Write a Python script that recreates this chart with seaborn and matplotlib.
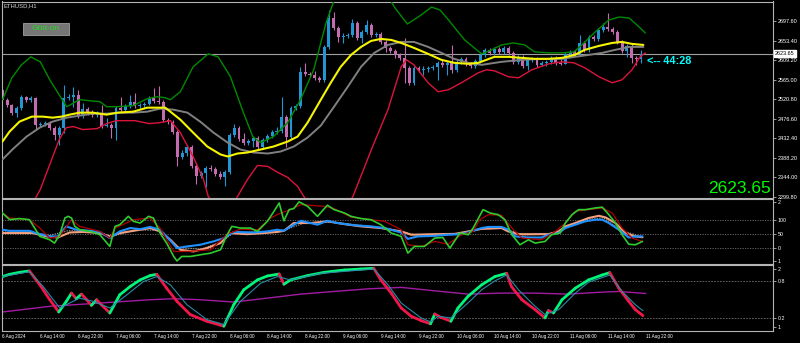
import matplotlib
matplotlib.use("Agg")
import matplotlib.pyplot as plt
from matplotlib.collections import LineCollection
from matplotlib.patches import Rectangle
import numpy as np
import pandas as pd
import seaborn as sns

# ---------------- price candles (hourly, ETHUSD H1) ----------------
first_open = 2542.0
close = [2519.5, 2508.2, 2490.1, 2501.4, 2526.2, 2519.5, 2523.9, 2463.1, 2465.3, 2467.6,
         2456.3, 2440.5, 2456.3, 2523.9, 2526.2, 2530.7, 2483.4, 2499.2, 2490.1, 2485.6,
         2490.1, 2460.8, 2463.1, 2456.3, 2501.4, 2496.9, 2505.9, 2514.9, 2505.9, 2508.2,
         2510.4, 2523.9, 2517.2, 2514.9, 2474.4, 2469.8, 2447.3, 2390.9, 2399.9, 2413.5,
         2368.4, 2345.9, 2352.6, 2363.9, 2361.6, 2350.4, 2343.6, 2354.9, 2440.5, 2456.3,
         2431.5, 2422.5, 2427.0, 2433.8, 2413.5, 2429.3, 2438.3, 2447.3, 2449.6, 2481.1,
         2436.0, 2501.4, 2505.9, 2582.6, 2578.1, 2575.8, 2569.1, 2564.6, 2639.0, 2704.4,
         2681.8, 2661.5, 2663.8, 2666.0, 2693.1, 2659.3, 2672.8, 2688.6, 2666.0, 2668.3,
         2650.2, 2636.7, 2630.0, 2620.9, 2614.2, 2591.6, 2557.8, 2591.6, 2587.1, 2589.4,
         2591.6, 2593.9, 2602.9, 2598.4, 2602.9, 2587.1, 2605.1, 2611.9, 2600.6, 2596.1,
         2607.4, 2620.9, 2632.2, 2625.4, 2634.5, 2627.7, 2636.7, 2625.4, 2605.1, 2616.4,
         2596.1, 2609.7, 2611.9, 2598.4, 2602.9, 2605.1, 2614.2, 2602.9, 2600.6, 2623.2,
         2627.7, 2623.2, 2648.0, 2632.2, 2661.5, 2657.0, 2677.3, 2684.1, 2679.6, 2672.8,
         2650.2, 2630.0, 2641.2, 2614.2, 2611.9, 2623.65]
high = [2546.5, 2523.9, 2510.4, 2505.9, 2530.7, 2528.5, 2528.5, 2526.2, 2469.8, 2472.1,
        2472.1, 2460.8, 2460.8, 2553.3, 2533.0, 2548.8, 2542.0, 2512.7, 2503.7, 2496.9,
        2494.7, 2508.2, 2478.9, 2467.6, 2505.9, 2526.2, 2510.4, 2530.7, 2535.2, 2512.7,
        2514.9, 2528.5, 2546.5, 2551.0, 2519.5, 2478.9, 2474.4, 2451.8, 2406.7, 2418.0,
        2418.0, 2372.9, 2357.1, 2368.4, 2370.6, 2366.1, 2357.1, 2359.4, 2445.1, 2465.3,
        2460.8, 2445.1, 2431.5, 2438.3, 2438.3, 2433.8, 2442.8, 2451.8, 2458.6, 2526.2,
        2485.6, 2505.9, 2510.4, 2593.9, 2602.9, 2582.6, 2584.9, 2573.6, 2643.5, 2722.4,
        2717.9, 2686.3, 2670.5, 2670.5, 2702.1, 2697.6, 2677.3, 2699.9, 2693.1, 2672.8,
        2672.8, 2654.8, 2641.2, 2634.5, 2625.4, 2659.3, 2596.1, 2596.1, 2596.1, 2596.1,
        2596.1, 2598.4, 2607.4, 2611.9, 2607.4, 2643.5, 2609.7, 2616.4, 2616.4, 2605.1,
        2611.9, 2625.4, 2636.7, 2636.7, 2639.0, 2639.0, 2641.2, 2641.2, 2630.0, 2620.9,
        2620.9, 2614.2, 2616.4, 2616.4, 2607.4, 2609.7, 2618.7, 2618.7, 2611.9, 2627.7,
        2632.2, 2632.2, 2666.0, 2652.5, 2666.0, 2666.0, 2681.8, 2693.1, 2715.7, 2684.1,
        2677.3, 2654.8, 2645.7, 2645.7, 2618.7, 2632.2]
low = [2517.2, 2503.7, 2485.6, 2481.1, 2496.9, 2514.9, 2514.9, 2451.8, 2458.6, 2460.8,
       2451.8, 2429.3, 2418.0, 2445.1, 2519.5, 2503.7, 2478.9, 2478.9, 2485.6, 2481.1,
       2481.1, 2456.3, 2458.6, 2433.8, 2429.3, 2492.4, 2492.4, 2501.4, 2501.4, 2501.4,
       2503.7, 2508.2, 2512.7, 2510.4, 2469.8, 2465.3, 2442.8, 2368.4, 2386.4, 2393.2,
       2363.9, 2327.8, 2341.4, 2321.0, 2357.1, 2345.9, 2339.1, 2323.3, 2350.4, 2436.0,
       2427.0, 2418.0, 2418.0, 2413.5, 2409.0, 2409.0, 2424.8, 2433.8, 2442.8, 2445.1,
       2413.5, 2431.5, 2496.9, 2501.4, 2573.6, 2571.3, 2564.6, 2560.1, 2560.1, 2634.5,
       2677.3, 2650.2, 2648.0, 2659.3, 2661.5, 2654.8, 2648.0, 2668.3, 2661.5, 2661.5,
       2645.7, 2627.7, 2625.4, 2614.2, 2609.7, 2557.8, 2553.3, 2553.3, 2582.6, 2575.8,
       2582.6, 2587.1, 2564.6, 2593.9, 2575.8, 2580.3, 2582.6, 2600.6, 2596.1, 2591.6,
       2591.6, 2602.9, 2616.4, 2620.9, 2620.9, 2623.2, 2623.2, 2620.9, 2600.6, 2600.6,
       2591.6, 2587.1, 2605.1, 2593.9, 2596.1, 2596.1, 2600.6, 2598.4, 2598.4, 2600.6,
       2618.7, 2618.7, 2618.7, 2627.7, 2627.7, 2652.5, 2652.5, 2672.8, 2675.0, 2668.3,
       2645.7, 2625.4, 2616.4, 2602.9, 2598.4, 2602.9]
current_price = 2623.65

# ---------------- main-panel indicator lines (bar index, price) ----------------
upper_i = [0, 2, 4, 6, 8, 10, 12.5, 13.6, 16.3, 20.6, 22, 24.2, 27.6, 30.6, 32.7, 34.4, 35.5, 37.6, 40.3, 43.5,
           45.6, 48.2, 50.7, 52.9, 54.6, 57.3, 60.3, 63, 65.8, 68.4, 70.5, 74, 78, 81, 83, 85.6, 88.5, 90.7, 92.5, 94.3,
           97.7, 101.3, 103.4, 105.5, 108, 110.4, 112.5, 115.5, 118.3, 120.8, 122.5, 125.3, 128.2, 130.4, 132.5, 134.6, 135.9]
upper_p = [2519.5, 2569.1, 2598.4, 2616.5, 2605.2, 2564.6, 2521.8, 2503.7, 2519.5, 2515.0,
           2503.7, 2503.7, 2506.0, 2521.8, 2526.3, 2524.0, 2519.5, 2537.5, 2593.9, 2623.2,
           2616.5, 2571.4, 2497.0, 2436.1, 2422.5, 2436.1, 2467.6, 2519.5, 2587.2, 2693.1,
           2756.3, 2812.7, 2812.7, 2763.0, 2727.0, 2690.9, 2711.2, 2729.2, 2722.5, 2699.9,
           2654.8, 2623.2, 2632.3, 2643.5, 2648.0, 2643.5, 2627.7, 2625.5, 2625.5, 2627.7,
           2643.5, 2672.8, 2699.9, 2706.7, 2704.4, 2684.1, 2670.6]
lower_i = [0, 4, 8, 10, 12, 13.5, 15, 17, 20, 22, 24, 28, 31, 33.3, 35.5, 37.6, 40.3, 42.5, 43.5, 46,
           48, 49.7, 51.8, 53.9, 56.1, 58.2, 60.3, 62.4, 63.7, 66, 69, 72, 74.1, 78, 81.5, 84.3, 85.4, 87, 90, 92.1,
           94.3, 97, 100.6, 102.3, 104, 107, 109.1, 111.9, 115.5, 118.3, 120.8, 123.1, 126.1, 128.9, 131, 133.1, 134.8, 135.9]
lower_p = [2147.4, 2237.6, 2316.6, 2372.9, 2429.3, 2456.4, 2458.6, 2451.9, 2454.1, 2465.4,
           2472.1, 2472.1, 2465.4, 2467.6, 2472.1, 2445.1, 2391.0, 2339.1, 2300.8, 2266.9,
           2266.9, 2300.8, 2339.1, 2370.7, 2368.4, 2354.9, 2343.6, 2323.3, 2300.8, 2266.9,
           2237.6, 2266.9, 2300.8, 2406.8, 2497.0, 2593.9, 2609.7, 2598.4, 2557.8, 2537.5,
           2542.1, 2557.8, 2580.4, 2587.2, 2584.9, 2571.4, 2569.1, 2587.2, 2600.7, 2605.2,
           2603.0, 2591.7, 2571.4, 2557.8, 2564.6, 2587.2, 2616.5, 2625.5]
fast_i = [0, 1.5, 3.6, 6.2, 8.5, 10.6, 12.5, 14.2, 16.3, 19.1, 22, 24.4, 27.6, 30.6, 34.4, 35.5, 37.6, 40.3, 43.3, 46.1,
          47.6, 49.7, 51.8, 54.6, 57.3, 60.3, 62.4, 64.5, 67.3, 69.4, 71.5, 73.7, 75.8, 77.9, 80, 82.2, 84.3, 87, 90, 92.8,
          95.5, 98.5, 100.6, 104, 107, 109.8, 112.5, 115.5, 118.3, 121, 123.1, 126.1, 128.9, 131, 133.1, 135.5]
fast_p = [2424.8, 2447.3, 2469.9, 2481.2, 2481.2, 2478.9, 2481.2, 2485.7, 2490.2, 2490.2,
          2485.7, 2490.2, 2492.4, 2501.5, 2501.5, 2492.4, 2474.4, 2445.1, 2413.5, 2395.5,
          2391.0, 2397.7, 2400.0, 2406.8, 2413.5, 2424.8, 2436.1, 2467.6, 2519.5, 2557.8,
          2593.9, 2621.0, 2639.0, 2652.5, 2657.1, 2654.8, 2648.0, 2636.8, 2623.2, 2609.7,
          2603.0, 2600.7, 2603.0, 2616.5, 2616.5, 2614.2, 2612.0, 2612.0, 2614.2, 2621.0,
          2632.3, 2641.3, 2648.0, 2650.3, 2645.8, 2643.5]
slow_i = [0, 2.1, 5.1, 7.9, 10.6, 13.6, 16.3, 19.1, 22, 24.8, 27.6, 30.6, 33.3, 36.1, 39.1, 41.8, 44.6, 47.6, 50.3, 53.1,
          56.1, 58.8, 61.6, 64.5, 67.3, 70.1, 73, 75.8, 78.6, 81.5, 84.3, 87, 90, 92.8, 95.5, 98.5, 101.3, 105.5, 109.8, 114,
          118.3, 121, 124, 126.8, 129.5, 132.5, 135.5]
slow_p = [2384.2, 2406.8, 2436.1, 2456.4, 2469.9, 2478.9, 2483.4, 2487.9, 2487.9, 2490.2,
          2490.2, 2492.4, 2499.2, 2497.0, 2490.2, 2469.9, 2445.1, 2422.5, 2406.8, 2400.0,
          2397.7, 2402.2, 2413.5, 2433.8, 2460.9, 2503.7, 2548.8, 2593.9, 2625.5, 2643.5,
          2650.3, 2650.3, 2639.0, 2625.5, 2612.0, 2603.0, 2598.4, 2605.2, 2609.7, 2612.0,
          2612.0, 2616.5, 2621.0, 2625.5, 2632.3, 2639.0, 2639.0]
price_ticks = [2299.80, 2344.00, 2388.20, 2432.40, 2476.60, 2520.80, 2565.00, 2609.20, 2653.40, 2697.60]

# ---------------- oscillator panel 1 ----------------
g_i = [0, 1.5, 3.6, 5.7, 7.9, 10, 11, 12.1, 13.2, 13.9, 14.6, 15.3, 16.3, 18.5, 20.6, 22.7, 23.8, 24.8, 26.6, 27.7,
       29.1, 30.9, 31.9, 33.3, 34.7, 36.2, 36.9, 37.9, 39.7, 41.8, 44, 46.1, 47.5, 48.5, 50.3, 52.4, 53.9, 56, 57.4, 58.5,
       59.5, 60.6, 61.6, 62.7, 64.5, 66.6, 68.7, 70.1, 72.3, 73.7, 75.8, 77.9, 80, 82.2, 84.3, 85.7, 87.1, 89.2, 91.4, 93.1,
       94.6, 96.7, 98.5, 99.5, 101.6, 103.1, 104.8, 106.2, 107.7, 109.4, 111.2, 112.6, 114.7, 116.1, 117.9, 119, 120.4,
       121.8, 123.2, 125.3, 126.8, 128.2, 129.6, 131, 132.4, 133.8, 135.3]
g_v = [125, 101, 105, 101, 41, 29, 17, 47, 107, 113, 107, 77, 65, 59, 47, 5, 77, 83, 113, 95,
       89, 113, 107, 53, 17, -31, -47, -31, -31, -25, -19, -7, 47, 77, 71, 71, 59, 95, 131, 161,
       97, 137, 141, 165, 149, 113, 153, 137, 125, 113, 105, 101, 83, 53, 41, -19, 5, 5, 35, 37,
       -1, 53, 47, 71, 137, 125, 119, 101, 47, 11, 29, 17, 23, 47, 53, 89, 119, 137, 137, 143,
       146, 119, 89, 47, 13, 11, 23]
r_i = [0, 1.5, 5.7, 7.9, 10, 12.1, 14.6, 16.3, 20.6, 22.7, 23.8, 27.7, 31.2, 33.3, 36.2, 39, 44, 47.5, 50.3, 53.9,
       56.7, 58.8, 60.9, 63.1, 68, 70.1, 73.7, 77.9, 80.8, 84.3, 85.7, 88.5, 91.4, 94.2, 97, 99.5, 100.9, 102.7, 105.5,
       107.7, 109.8, 114, 116.9, 119, 121.1, 123.9, 126.8, 128.9, 131, 133.1, 135.3]
r_v = [125, 107, 101, 71, 35, 41, 101, 77, 59, 35, 71, 101, 107, 71, -13, -13, -7, 49, 67, 65,
       107, 125, 137, 155, 149, 141, 110, 101, 95, 65, 11, 5, 23, 13, 47, 59, 101, 119, 117, 71,
       35, 29, 59, 89, 131, 137, 143, 125, 71, 35, 23]
b_i = [0, 1.5, 5.7, 7.1, 10, 11.7, 13.5, 15.6, 18.5, 20.6, 22.7, 24.8, 27, 29.1, 31.2, 33.3, 34.7, 36.9, 39, 41.8,
       44.6, 46.8, 48.9, 53.1, 56, 58.1, 59.5, 61, 63.1, 66.6, 68.7, 70.8, 74.4, 77.9, 80.8, 84.3, 85.7, 87.8, 91.4, 94.2,
       97, 99.5, 101.3, 102.7, 105.5, 107, 108.4, 111.2, 114, 115.4, 117.6, 119, 121.1, 123.2, 125.3, 126.8, 128.2,
       130.3, 132.4, 133.8, 135.3]
b_v = [65, 61, 61, 53, 41, 41, 77, 65, 61, 57, 35, 59, 71, 67, 75, 65, 41, -1, 5, 11,
       23, 35, 57, 55, 59, 65, 61, 77, 97, 83, 97, 89, 81, 77, 71, 55, 32, 41, 43, 47,
       49, 61, 71, 75, 75, 65, 41, 37, 37, 47, 53, 71, 83, 95, 101, 101, 89, 65, 37, 41, 41]
s_i = [0, 3.6, 6.4, 9.3, 11.7, 14.2, 17.1, 20.6, 22.7, 24.8, 27.7, 31.2, 33.3, 35.5, 37.6, 40.4, 43.2, 46.1, 48.2, 51.7,
       55.3, 58.1, 59.5, 61.6, 65.2, 68.7, 72.3, 75.8, 80, 84.3, 86.4, 91.4, 95.6, 98.5, 101.3, 105.5, 106.9, 109.1, 112.6,
       115.4, 117.6, 119, 121.1, 123.9, 126.1, 127.5, 129.6, 131.7, 133.8, 135.3]
s_v = [53, 53, 53, 41, 37, 55, 57, 53, 41, 53, 61, 71, 59, 29, -7, -13, -1, 17, 53, 49,
       53, 57, 61, 89, 89, 95, 85, 77, 71, 59, 47, 49, 50, 59, 68, 71, 59, 49, 49, 49,
       59, 77, 89, 107, 115, 109, 89, 53, 41, 38]
d_i = [0, 6, 10, 14, 20, 23, 28, 33, 37, 42, 46, 49, 56, 60, 64, 70, 76, 84, 88, 96, 101, 106, 110, 116, 119, 123,
       127, 131, 135]
d_v = [57, 57, 45, 62, 58, 40, 64, 63, 2, -5, 20, 55, 58, 66, 90, 92, 80, 60, 44, 48, 68, 70, 46, 50, 72, 100,
       108, 62, 40]
osc1_ticks = [-47, 0, 50, 100, 166]
osc1_labels = ["1", "0", "50", "100", "2"]

# ---------------- oscillator panel 2 ----------------
osc_i = [0, 1.5, 3.6, 5.7, 7.9, 10.0, 11.9, 13.5, 14.6, 15.6, 16.7, 17.8, 18.8, 19.9, 20.9, 22.7, 24.8, 27.0, 29.1, 31.2,
         32.6, 34.7, 36.9, 39.7, 43.2, 46.8, 48.9, 51.0, 53.9, 56.0, 58.5, 59.5, 60.9, 64.5, 68.0, 72.3, 75.8, 78.5, 80.0,
         82.2, 84.3, 86.4, 88.5, 90.5, 91.4, 92.6, 94.8, 96.3, 98.4, 101.3, 104.1, 106.6, 107.6, 109.8, 112.6, 114.7, 115.4,
         116.5, 118.3, 121.1, 123.9, 126.8, 128.4, 130.3, 132.4, 133.8, 135.4]
osc_v = [0.870, 0.907, 0.939, 0.961, 0.736, 0.495, 0.296, 0.468, 0.602, 0.511, 0.586, 0.495, 0.404, 0.495, 0.414,
         0.280, 0.575, 0.709, 0.816, 0.886, 0.907, 0.682, 0.468, 0.254, 0.146, 0.066, 0.414, 0.655, 0.816, 0.880,
         0.912, 0.746, 0.816, 0.886, 0.939, 0.977, 0.993, 1.004, 0.816, 0.600, 0.361, 0.227, 0.157, 0.104, 0.264,
         0.211, 0.146, 0.361, 0.548, 0.736, 0.870, 0.923, 0.709, 0.495, 0.334, 0.200, 0.318, 0.280, 0.495, 0.682,
         0.816, 0.896, 0.934, 0.682, 0.468, 0.334, 0.237]
sig_i = [0, 5.7, 8.6, 12.1, 13.5, 16.3, 19.2, 22.7, 26.3, 29.8, 32.6, 35.5, 39.0, 43.2, 46.8, 50.3, 54.6, 58.1, 60.9,
         67.3, 78.5, 81.5, 84.3, 88.5, 90.5, 92.1, 94.8, 98.4, 101.3, 104.1, 106.6, 109.1, 112.6, 114.7, 117.6, 121.1,
         123.9, 128.4, 131.0, 133.8, 135.4]
sig_v = [0.870, 0.950, 0.709, 0.361, 0.414, 0.521, 0.468, 0.361, 0.575, 0.789, 0.870, 0.736, 0.414, 0.173, 0.093,
         0.468, 0.763, 0.870, 0.816, 0.923, 0.993, 0.736, 0.441, 0.200, 0.136, 0.227, 0.200, 0.441, 0.655, 0.800,
         0.896, 0.655, 0.388, 0.254, 0.334, 0.602, 0.779, 0.896, 0.629, 0.414, 0.318]
trend_i = [0, 10, 20.6, 31.2, 36.2, 41.8, 48.9, 56, 63.1, 70.1, 77.2, 84.3, 91.4, 98.4, 105.5, 112.6, 119.7, 126.8,
           130.3, 136]
trend_v = [0.296, 0.388, 0.441, 0.495, 0.511, 0.495, 0.457, 0.521, 0.586, 0.629, 0.671, 0.695, 0.639, 0.586, 0.602,
           0.602, 0.586, 0.618, 0.629, 0.596]
osc2_ticks = [0.053, 0.2, 0.8, 1.0]
osc2_labels = ["1", "0.2", "0.8", "2"]

# ---------------- time axis ----------------
time_ticks = list(range(0, 137, 8))
time_labels = ["6 Aug 2024", "6 Aug 14:00", "6 Aug 22:00", "7 Aug 06:00", "7 Aug 14:00", "7 Aug 22:00",
               "8 Aug 06:00", "8 Aug 14:00", "8 Aug 22:00", "9 Aug 06:00", "9 Aug 14:00", "9 Aug 22:00",
               "10 Aug 06:00", "10 Aug 14:00", "10 Aug 22:00", "11 Aug 06:00", "11 Aug 14:00", "11 Aug 22:00"]

# ======================= drawing =======================
sns.set_theme(style="dark", rc={
    "axes.facecolor": "black", "figure.facecolor": "black", "axes.grid": False,
    "axes.edgecolor": "#b4b4b4", "xtick.color": "#b4b4b4", "ytick.color": "#b4b4b4",
    "text.color": "white"})
plt.rcParams["font.family"] = ["Liberation Sans", "DejaVu Sans"]

W, H = 800, 343
fig = plt.figure(figsize=(W / 100, H / 100), dpi=100)


def box(x0, y0, x1, y1):
    return [x0 / W, 1 - y1 / H, (x1 - x0) / W, (y1 - y0) / H]


ax = fig.add_axes(box(2, 1.5, 773, 198))
ax1 = fig.add_axes(box(2, 198.5, 773, 264))
ax2 = fig.add_axes(box(2, 264.5, 773, 331))
for a in (ax, ax1, ax2):
    a.set_facecolor("black")
    for s in a.spines.values():
        s.set_color("#b4b4b4")
        s.set_linewidth(0.8)


def sline(a, x, y, **kw):
    sns.lineplot(x=x, y=y, ax=a, estimator=None, sort=False, legend=False, **kw)


# --- main panel
df = pd.DataFrame({"close": close, "high": high, "low": low})
df["open"] = [first_open] + close[:-1]
df["idx"] = np.arange(len(df))
bull = df["close"] >= df["open"]
cols = np.where(bull, "#2196d3", "#c46cb0")
ax.axhline(current_price, color="#a0a0a0", lw=0.8, zorder=1)
ax.vlines(df["idx"], df["low"], df["high"], colors=cols, lw=0.8, zorder=2)
body_lo = np.minimum(df["open"], df["close"])
body_h = np.maximum((df["close"] - df["open"]).abs(), 1.3)
ax.bar(df["idx"], body_h, bottom=body_lo, width=0.62, color=cols, linewidth=0, zorder=2)

sline(ax, upper_i, upper_p, color="#008a00", lw=1.0, zorder=3)
sline(ax, lower_i, lower_p, color="#dc143c", lw=1.0, zorder=3)
sline(ax, slow_i, slow_p, color="#808080", lw=1.4, zorder=3)
sline(ax, fast_i, fast_p, color="#f5f500", lw=1.5, zorder=4)

ax.set_xlim(-0.1, 162.9)
ax.set_ylim(2297.0, 2741.8)
ax.yaxis.tick_right()
ax.set_yticks(price_ticks)
ax.set_yticklabels([f"{v:.2f}" for v in price_ticks])
ax.tick_params(axis="y", length=2, width=0.6, pad=1.5, labelsize=4.0, labelcolor="white")
ax.tick_params(axis="x", bottom=False, labelbottom=False)
ax.set_xlabel("")
ax.set_ylabel("")
ax.annotate(f"{current_price:.2f}", xy=(1.0, current_price), xycoords=("axes fraction", "data"),
            xytext=(1.5, 0), textcoords="offset points", ha="left", va="center",
            fontsize=4.0, color="black",
            bbox=dict(boxstyle="square,pad=0.15", fc="white", ec="white"))

# --- oscillator 1
for lv in (0, 50, 100):
    ax1.axhline(lv, color="#6e6e6e", lw=0.6, ls=(0, (1.5, 1.5)), zorder=1)
sline(ax1, d_i, d_v, color="#8c8c8c", lw=0.9, ls=(0, (1, 1)), zorder=2)
sline(ax1, s_i, s_v, color="#f2a07e", lw=1.5, zorder=3)
sline(ax1, b_i, b_v, color="#1e90ff", lw=1.5, zorder=4)
sline(ax1, r_i, r_v, color="#b00000", lw=0.9, zorder=5)
sline(ax1, g_i, g_v, color="#2ecc2e", lw=1.2, zorder=6)
ax1.set_xlim(-0.1, 162.9)
ax1.set_ylim(-58, 177)
ax1.yaxis.tick_right()
ax1.set_yticks(osc1_ticks)
ax1.set_yticklabels(osc1_labels)
ax1.tick_params(axis="y", length=2, width=0.6, pad=1.5, labelsize=3.8, labelcolor="white")
ax1.tick_params(axis="x", bottom=False, labelbottom=False)
ax1.set_xlabel("")
ax1.set_ylabel("")

# --- oscillator 2
for lv in (0.2, 0.8):
    ax2.axhline(lv, color="#6e6e6e", lw=0.6, ls=(0, (2, 1.5)), zorder=1)
sline(ax2, trend_i, trend_v, color="#a21ca2", lw=1.0, zorder=2)
pts = np.column_stack([osc_i, osc_v])
segs = np.stack([pts[:-1], pts[1:]], axis=1)
seg_cols = ["#00f57a" if b > a else "#f0174a" for a, b in zip(osc_v[:-1], osc_v[1:])]
ax2.add_collection(LineCollection(segs, colors=seg_cols, linewidths=2.0, capstyle="round", zorder=3))
sline(ax2, sig_i, sig_v, color="#2a8aa6", lw=0.8, zorder=4)
ax2.set_xlim(-0.1, 162.9)
ax2.set_ylim(-0.012, 1.066)
ax2.yaxis.tick_right()
ax2.set_yticks(osc2_ticks)
ax2.set_yticklabels(osc2_labels)
ax2.tick_params(axis="y", length=2, width=0.6, pad=1.5, labelsize=3.8, labelcolor="white")
ax2.set_xticks(time_ticks)
ax2.set_xticklabels(time_labels)
for lbl in ax2.get_xticklabels():
    lbl.set_ha("left")
ax2.tick_params(axis="x", length=1.5, width=0.6, pad=0.8, labelsize=3.3, labelcolor="white")
ax2.set_xlabel("")
ax2.set_ylabel("")


# --- overlay texts
def fx(x):
    return x / W


def fy(y):
    return 1 - y / H


fig.text(fx(4), fy(5.5), "ETHUSD,H1", fontsize=4.2, color="#dcdcdc", ha="left", va="center")
fig.patches.append(Rectangle((fx(22.7), fy(34.7)), (68.7 - 22.7) / W, (34.7 - 22.7) / H,
                             transform=fig.transFigure, facecolor="#767676", edgecolor="#a0a0a0",
                             lw=0.6, zorder=5))
fig.text(fx(45.7), fy(28.9), "Grid-on", fontsize=6.0, color="#1ee01e", ha="center", va="center", zorder=6)
fig.text(fx(771), fy(193), f"{current_price:.2f}", fontsize=12.5, color="#00ff00", ha="right", va="baseline")
fig.text(fx(647), fy(60.5), "<-- 44:28", fontsize=7.8, color="#00ffff", fontweight="bold",
         ha="left", va="center")

fig.savefig("out.png", dpi=100, facecolor="black")
